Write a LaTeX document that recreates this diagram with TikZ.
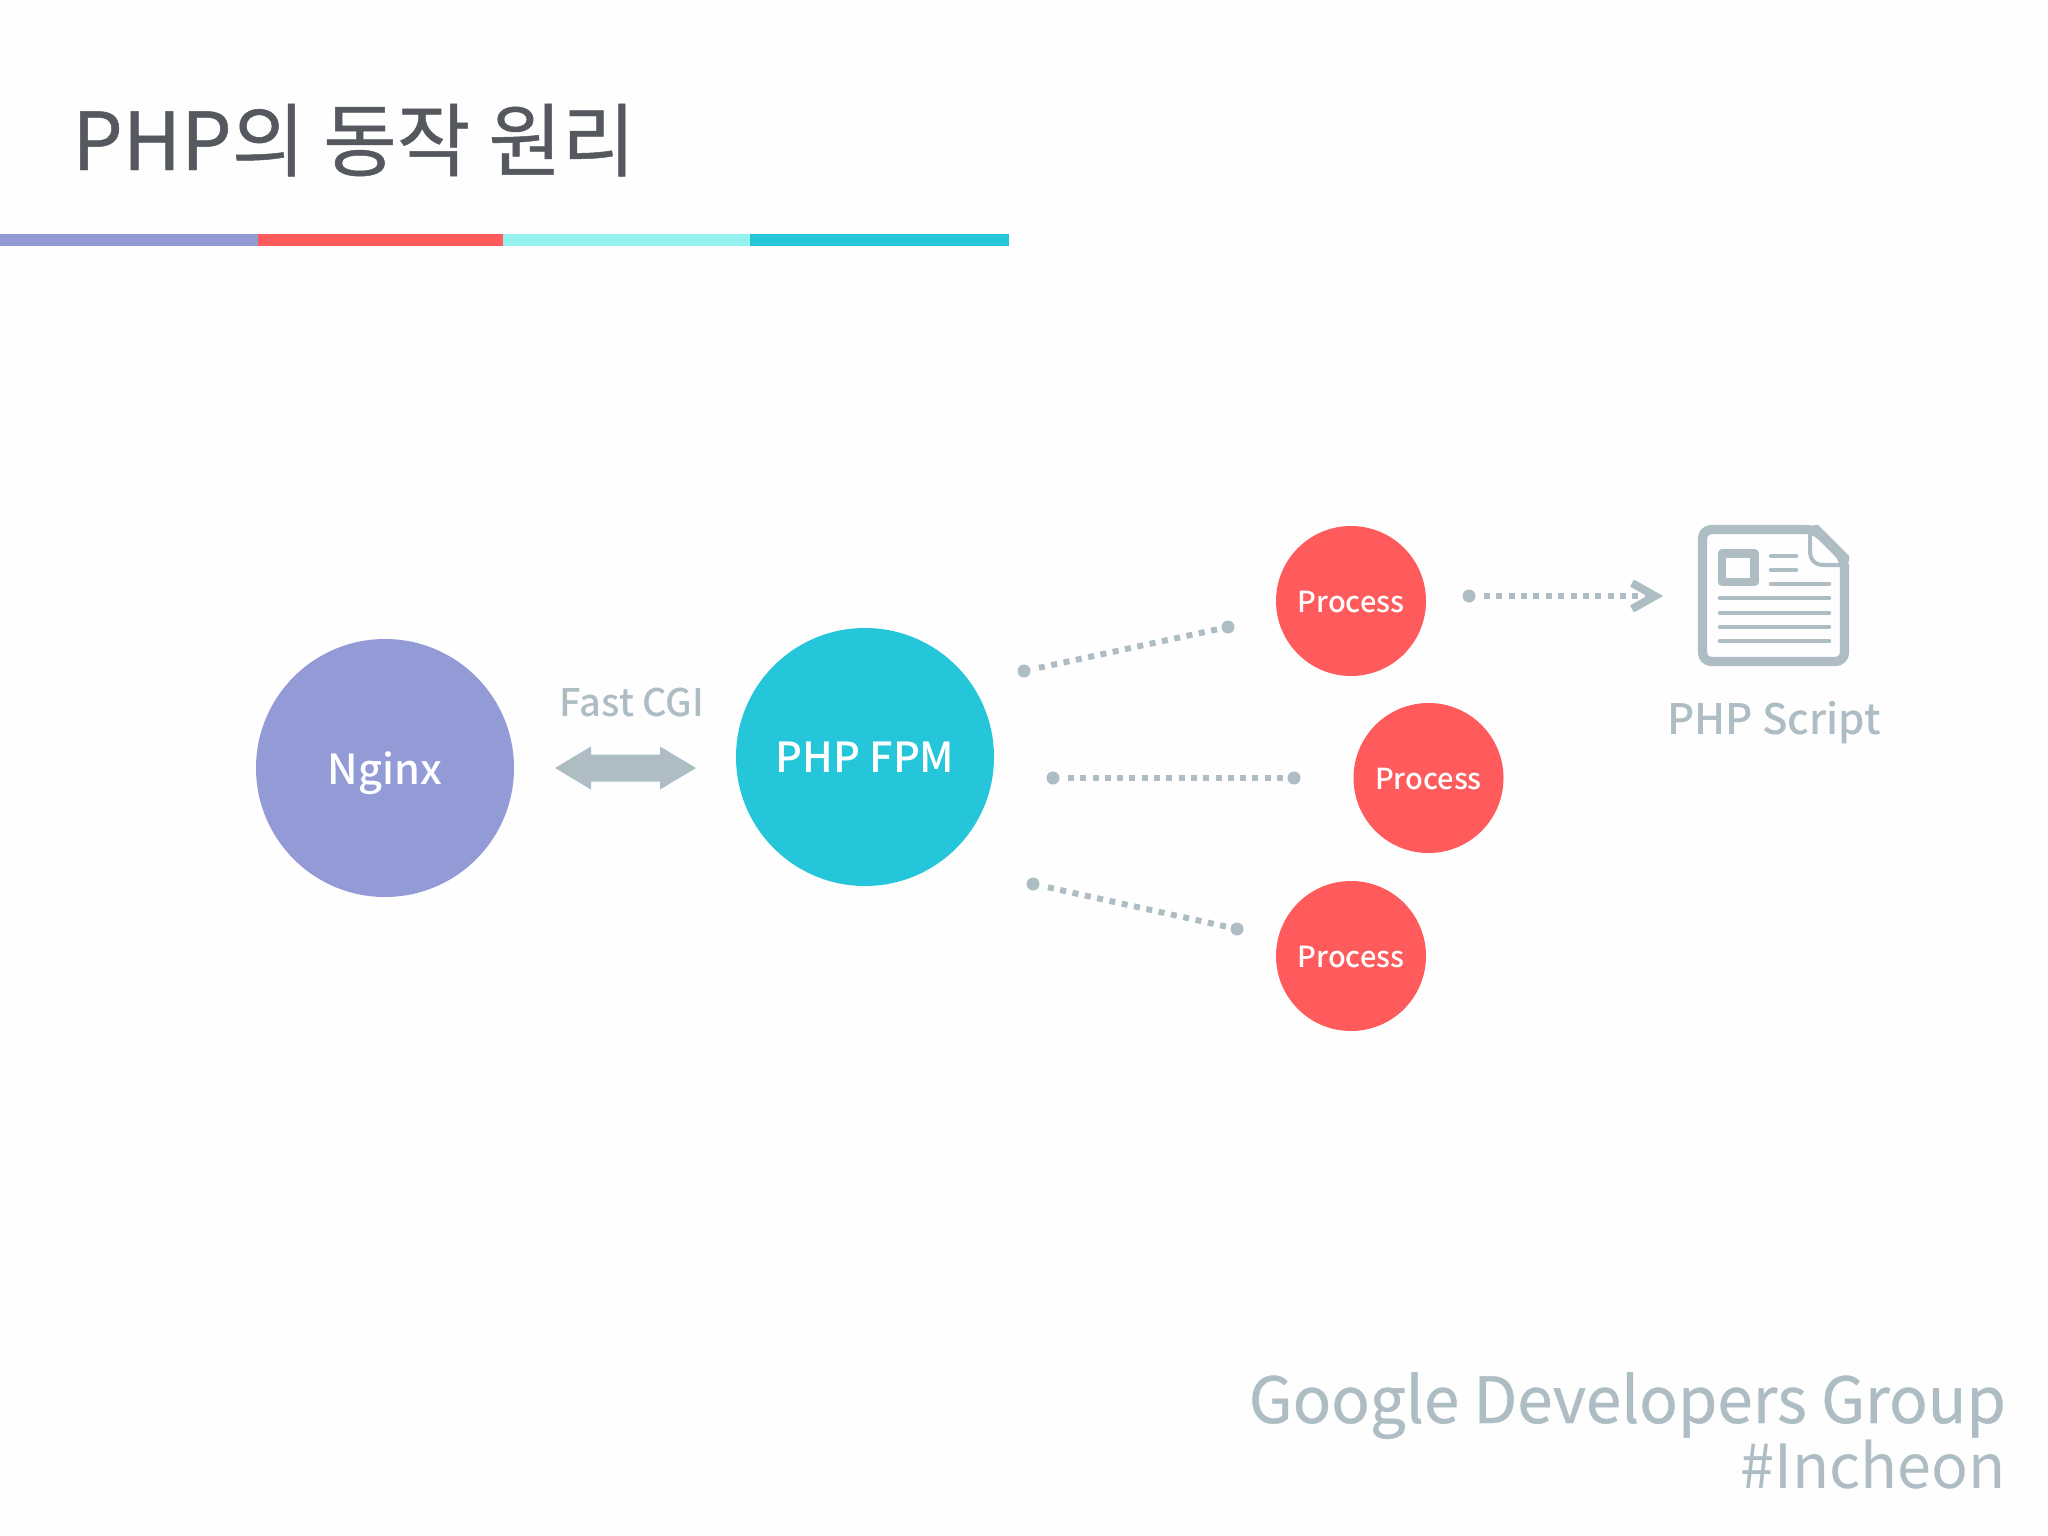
\documentclass[tikz,border=0pt]{standalone}
\usepackage{fontspec}
\setmainfont{Noto Sans CJK KR}
\newfontfamily\medf[UprightFont=* Medium]{Noto Sans CJK KR}
\newfontfamily\titlef[FakeBold=0.6]{Noto Sans CJK KR}
\usetikzlibrary{decorations}
\definecolor{purp}{HTML}{939BD6}
\definecolor{redd}{HTML}{FF5A5C}
\definecolor{aqua}{HTML}{96F2EE}
\definecolor{cyann}{HTML}{26C6DA}
\definecolor{greyb}{HTML}{AEBDC4}
\definecolor{titleg}{HTML}{55585F}
\definecolor{bgw}{HTML}{FEFEFE}
\newcommand{\fsz}[1]{\fontsize{#1}{#1}\selectfont}
\tikzset{
  ball/.style={circle,fill=#1,text=white,inner sep=0pt,text depth=0pt,font=\medf\fsz{41.5}},
  big/.style={minimum size=258pt},
  small/.style={minimum size=150pt,font=\medf\fsz{29}},
  endp/.style={circle,fill=greyb,inner sep=0pt,minimum size=13pt},
  dots/.style={draw=greyb,line width=6pt,dash pattern=on 6pt off 6pt,dash expand off,shorten >=2pt,shorten <=2pt},
  icon/.style={draw=greyb,line width=4.5pt,line cap=round},
  lab/.style={text=greyb,inner sep=0pt,anchor=base},
}
\begin{document}
\begin{tikzpicture}[x=1pt,y=-1pt]
\useasboundingbox (0,0) rectangle (2048,1536);
\fill[bgw] (0,0) rectangle (2048,1536);
% title
\node[anchor=base west,inner sep=0pt,text=titleg,font=\titlef\fsz{80}] (title) at (72,170) {PHP의 동작 원리};
\fill[purp] (0,234) rectangle (258,246);
\fill[redd] (258,234) rectangle (503,246);
\fill[aqua] (503,234) rectangle (750,246);
\fill[cyann] (750,234) rectangle (1009,246);
% main circles
\node[ball=purp,big] (nginx) at (385,768) {Nginx};
\node[ball=cyann,big] (fpm) at (865,757) {PHP FPM};
\node[ball=redd,small] (p1) at (1351,601) {\raisebox{-1.5pt}{Process}};
\node[ball=redd,small] (p2) at (1428.5,778) {\raisebox{-1.5pt}{Process}};
\node[ball=redd,small] (p3) at (1351,956) {\raisebox{-1.5pt}{Process}};
% double arrow
\coordinate (fast) at (625.5,768);
\fill[greyb] ([shift={(-70.5,0)}]fast) -- ([shift={(-34.5,-21.5)}]fast) -- ([shift={(-34.5,-13.5)}]fast)
  -- ([shift={(34.5,-13.5)}]fast) -- ([shift={(34.5,-21.5)}]fast) -- ([shift={(70.5,0)}]fast)
  -- ([shift={(34.5,21.5)}]fast) -- ([shift={(34.5,13.5)}]fast) -- ([shift={(-34.5,13.5)}]fast)
  -- ([shift={(-34.5,21.5)}]fast) -- cycle;
\node[lab,font=\medf\fsz{38}] (fastl) at (632,716) {Fast CGI};
% dotted connectors
\node[endp] (a1) at (1024,671) {};
\node[endp] (b1) at (1228,627) {};
\node[endp] (a2) at (1053,778) {};
\node[endp] (b2) at (1294,778) {};
\node[endp] (a3) at (1033,884) {};
\node[endp] (b3) at (1237,929) {};
\node[endp] (a4) at (1469,596) {};
\coordinate (tip) at (1655,596);
\draw[dots] (a1) -- (b1);
\draw[dots] (a2) -- (b2);
\draw[dots] (a3) -- (b3);
\draw[dots] (a4) -- (tip);
\draw[draw=greyb,line width=8pt,miter limit=4] ([shift={(-23,-13)}]tip) -- (tip) -- ([shift={(-23,13)}]tip);
% document icon
\draw[draw=greyb,line width=9.3pt,line join=round,rounded corners=9pt]
  (1702.5,529.5) -- (1815,529.5) -- (1844.5,559) -- (1844.5,661.5) -- (1702.5,661.5) -- cycle;
\fill[greyb] (1812,525) -- (1818,525) -- (1849,556) -- (1849,562) -- cycle;
\draw[icon,line width=4pt] (1810,533) -- (1810,551) .. controls (1810,560) and (1815,565) .. (1824,565) -- (1842,565);
\draw[draw=greyb,line width=8.6pt,line join=round] (1722,553.3) rectangle (1754.5,582);
\draw[icon] (1771,556) -- (1796,556);
\draw[icon] (1771,570) -- (1796,570);
\draw[icon] (1771,584) -- (1829,584);
\draw[icon] (1720,598) -- (1829,598);
\draw[icon] (1720,613) -- (1829,613);
\draw[icon] (1720,627) -- (1829,627);
\draw[icon] (1720,641) -- (1829,641);
\node[lab,font=\medf\fsz{42}] (scr) at (1774,734) {PHP Script};
% footer
\node[anchor=base east,inner sep=0pt,text=greyb,font=\titlef\fsz{63.7}] (f1) at (2006,1423) {Google Developers Group};
\node[anchor=base east,inner sep=0pt,text=greyb,font=\fsz{61}] (f2) at (2006,1488) {\#Incheon};
\end{tikzpicture}
\end{document}
